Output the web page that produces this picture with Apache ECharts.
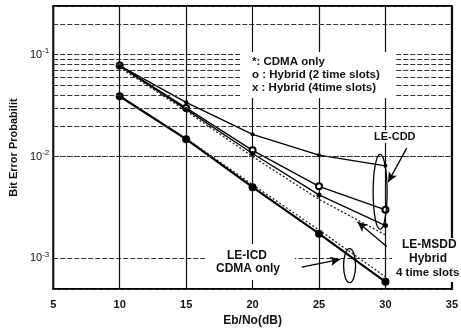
<!DOCTYPE html>
<html><head><meta charset="utf-8">
<script src="https://cdn.jsdelivr.net/npm/echarts@6/dist/echarts.min.js"></script>
<style>html,body{margin:0;padding:0;background:#fff}#c{width:461px;height:332px}</style>
</head><body><div id="c"></div>
<script>
var snr = [10, 15, 20, 25, 30];
var cddCdma = [0.078, 0.034, 0.0165, 0.0103, 0.0081];
var cddHyb2 = [0.078, 0.030, 0.0115, 0.0051, 0.0030];
var cddHyb4 = [0.077, 0.029, 0.0107, 0.0042, 0.0021];
var msddHyb4 = [0.075, 0.028, 0.0100, 0.0038, 0.0017];
var icdCdma = [0.039, 0.0148, 0.0050, 0.00175, 0.00059];
var icdDot = [0.039, 0.0150, 0.0053, 0.0019, 0.00066];
var xTicks = [5, 10, 15, 20, 25, 30, 35];
var yDecades = [0.001, 0.01, 0.1];
var yMinor = [0.0006,0.0007,0.0008,0.0009,0.002,0.003,0.004,0.005,0.006,0.007,0.008,0.009,
              0.02,0.03,0.04,0.05,0.06,0.07,0.08,0.09,0.2];

function pairs(v){ return snr.map(function(x,i){return [x, v[i]];}); }
var FONT = 'Liberation Sans, Arial, sans-serif';
var chart = echarts.init(document.getElementById('c'));
var gridStyle = {color:'#333', width:1, type:[5,2]};
var option = {
  animation:false,
  backgroundColor:'#fff',
  grid:{left:48, right:8, top:6, bottom:36, show:true, borderColor:'#000', borderWidth:2},
  xAxis:{type:'value', min:5, max:35, interval:5,
    name:'Eb/No(dB)', nameLocation:'middle', nameGap:25,
    nameTextStyle:{fontFamily:FONT, fontSize:12, fontWeight:'bold', color:'#111'},
    axisLine:{show:false}, axisTick:{show:false},
    axisLabel:{fontFamily:FONT, fontSize:11, fontWeight:'bold', color:'#111', margin:10},
    splitLine:{show:true, lineStyle:{color:'#111', width:1.2}}},
  yAxis:{type:'log', logBase:10, min:0.0005, max:0.3,
    name:'Bit Error Probabilit', nameLocation:'middle', nameGap:29,
    nameTextStyle:{fontFamily:FONT, fontSize:11, fontWeight:'bold', color:'#111'},
    axisLine:{show:false}, axisTick:{show:false},
    axisLabel:{showMinLabel:false, showMaxLabel:false, fontFamily:FONT, fontSize:11, color:'#111', margin:4,
      formatter:function(v){ var e=Math.round(Math.log10(v)); if (Math.abs(Math.log10(v)-e)>1e-6) return ''; return '10{s|'+e+'}'; },
      rich:{s:{fontSize:8, verticalAlign:'top', padding:[0,0,8,0], fontFamily:FONT}}},
    splitLine:{show:true, lineStyle:gridStyle}},
  series:[
    {name:'grid', type:'line', data:[], silent:true,
      markLine:{silent:true, symbol:['none','none'], label:{show:false}, lineStyle:gridStyle,
        data: yMinor.map(function(v){return {yAxis:v};})}},
    {name:'cddCdma', type:'line', data:pairs(cddCdma), symbol:'circle', symbolSize:4, itemStyle:{color:'#000'}, lineStyle:{color:'#000', width:1.3}},
    {name:'cddHyb2', type:'line', data:pairs(cddHyb2), symbol:'emptyCircle', symbolSize:6, itemStyle:{color:'#000', borderWidth:1.3}, lineStyle:{color:'#000', width:1.3}},
    {name:'cddHyb4', type:'line', data:pairs(cddHyb4), symbol:'circle', symbolSize:5, itemStyle:{color:'#000'}, lineStyle:{color:'#000', width:1.3}},
    {name:'msddHyb4', type:'line', data:pairs(msddHyb4), symbol:'none', lineStyle:{color:'#222', width:1.3, type:[2,2]}},
    {name:'icdDot', type:'line', data:pairs(icdDot), symbol:'none', lineStyle:{color:'#222', width:1.3, type:[2,2]}},
    {name:'icdCdma', type:'line', data:pairs(icdCdma), symbol:'circle', symbolSize:8, itemStyle:{color:'#000'}, lineStyle:{color:'#000', width:2.2},
      markLine:{silent:true, symbol:['none','arrow'], symbolSize:[7,10], label:{show:false}, lineStyle:{color:'#000', width:1.3, type:'solid'},
        data:[
          [{coord:[31.6, 0.0121]},{coord:[30.2, 0.0056]}],
          [{coord:[30.1, 0.00131]},{coord:[27.9, 0.00228]}],
          [{coord:[23.7, 0.00082]},{coord:[26.6, 0.00098]}]
        ]}}
  ]
};
chart.setOption(option);

function px(x,y){ return chart.convertToPixel({gridIndex:0}, [x,y]); }
var e1 = px(29.6, 0.0045), e1t = px(29.6, 0.0105);
var e2 = px(27.3, 0.00085), e2t = px(27.3, 0.00125);
var tStyle = {fontFamily:FONT, fontSize:11.5, fontWeight:'bold', fill:'#111', backgroundColor:'#fff'};
chart.setOption({graphic:[
  {type:'rect', left:240, top:52, shape:{width:156, height:46}, style:{fill:'#fff'}, z:5},
  {type:'text', left:252, top:56, z:6, style:Object.assign({}, tStyle, {text:'*: CDMA only', backgroundColor:null})},
  {type:'text', left:252, top:69, z:6, style:Object.assign({}, tStyle, {text:'o : Hybrid (2 time slots)', backgroundColor:null})},
  {type:'text', left:252, top:82, z:6, style:Object.assign({}, tStyle, {text:'x : Hybrid (4time slots)', backgroundColor:null})},
  {type:'text', left:372, top:130, z:6, style:Object.assign({}, tStyle, {text:'LE-CDD', fontSize:11, padding:[1,2]})},
  {type:'rect', left:205, top:244, shape:{width:90, height:36}, style:{fill:'#fff'}, z:5},
  {type:'text', left:227, top:250, z:6, style:Object.assign({}, tStyle, {text:'LE-ICD', fontSize:12, backgroundColor:null})},
  {type:'text', left:216, top:263, z:6, style:Object.assign({}, tStyle, {text:'CDMA only', fontSize:12, backgroundColor:null})},
  {type:'rect', left:392, top:238, shape:{width:66, height:44}, style:{fill:'#fff'}, z:5},
  {type:'text', left:402, top:239, z:6, style:Object.assign({}, tStyle, {text:'LE-MSDD', fontSize:12, backgroundColor:null})},
  {type:'text', left:409, top:253, z:6, style:Object.assign({}, tStyle, {text:'Hybrid', fontSize:12, backgroundColor:null})},
  {type:'text', left:396, top:267, z:6, style:Object.assign({}, tStyle, {text:'4 time slots', fontSize:11.5, backgroundColor:null})},
  {type:'ellipse', shape:{cx:e1[0], cy:e1[1], rx:7, ry:e1[1]-e1t[1]}, style:{fill:'none', stroke:'#000', lineWidth:1.3}, z:7},
  {type:'ellipse', shape:{cx:e2[0], cy:e2[1], rx:6, ry:e2[1]-e2t[1]}, style:{fill:'none', stroke:'#000', lineWidth:1.3}, z:7}
]});
</script></body></html>
